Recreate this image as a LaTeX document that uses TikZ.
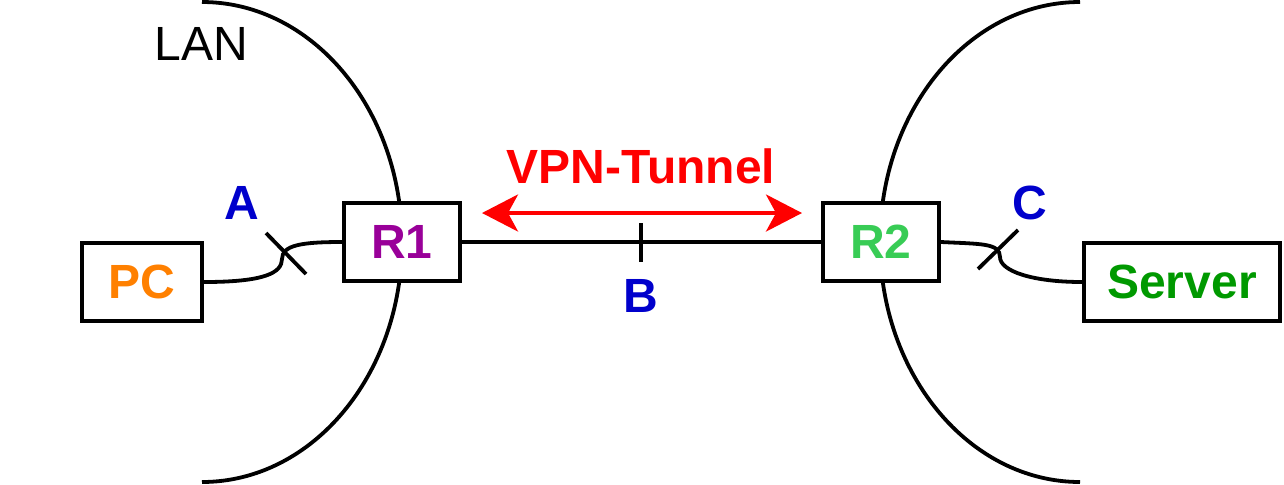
\documentclass[tikz,border=0pt]{standalone}
\usepackage{fontspec}
\setmainfont{Liberation Sans}
\usetikzlibrary{arrows.meta}
\definecolor{pcorange}{HTML}{FF8000}
\definecolor{rpurple}{HTML}{990099}
\definecolor{rgreen}{HTML}{38CC55}
\definecolor{srvgreen}{HTML}{009900}
\definecolor{ptblue}{HTML}{0000CC}
\tikzset{
  dev/.style={draw, fill=white, line width=2pt, minimum width=#1, minimum height=39pt, inner sep=0pt, font=\bfseries\fontsize{24}{28}\selectfont},
  dev/.default=58pt,
  wire/.style={line width=1.9pt},
  probe/.style={line width=1.9pt},
  ptlbl/.style={text=ptblue, font=\bfseries\fontsize{24}{28}\selectfont},
  vpn/.style={{Stealth[length=18pt,width=18.5pt,inset=5pt]}-{Stealth[length=18pt,width=18.5pt,inset=5pt]}, line width=1.9pt, draw=red},
}
\begin{document}
\begin{tikzpicture}[x=0.5pt,y=-0.5pt]
  \useasboundingbox (0,0) rectangle (1284,484);
  % network borders
  \draw[wire] (202,2) .. controls (312.5,2) and (402,109.4) .. (402,242) .. controls (402,374.6) and (312.5,482) .. (202,482);
  \draw[wire] (1080,2) .. controls (969.5,2) and (880,109.4) .. (880,242) .. controls (880,374.6) and (969.5,482) .. (1080,482);
  \node[font=\fontsize{24}{28}\selectfont] (lan) at (201,44) {LAN};
  % devices
  \node[dev=60pt, text=pcorange] (pc) at (142,282) {PC};
  \node[dev, text=rpurple] (r1) at (402,242) {R1};
  \node[dev, text=rgreen] (r2) at (881,242) {R2};
  \node[dev=98pt, text=srvgreen] (srv) at (1182,282) {Server};
  % links
  \coordinate (hopA) at (282,259);
  \coordinate (hopC) at (1000,257);
  \draw[wire] (pc.east) .. controls +(60,0) and +(0,14) .. (hopA) .. controls +(0,-14) and +(-40,0) .. (r1.west);
  \draw[wire] (r1) -- (r2);
  \draw[wire] (r2.east) .. controls +(40,2) and +(0,-14) .. (hopC) .. controls +(0,14) and +(-50,0) .. (srv.west);
  % measuring points
  \draw[probe] (266,233) -- ++(40,41);
  \draw[probe] (641,223) -- ++(0,39);
  \draw[probe] (978,269) -- ++(40,-39);
  \node[ptlbl] (ptA) at (242,203) {A};
  \node[ptlbl] (ptB) at (641,296) {B};
  \node[ptlbl] (ptC) at (1030,203) {C};
  % tunnel
  \coordinate (vl) at (482,213);
  \coordinate (vr) at (802,213);
  \draw[vpn] (vl) -- (vr);
  \node[text=red, font=\bfseries\fontsize{24}{28}\selectfont] (vpnlbl) at (641,166) {VPN-Tunnel};
\end{tikzpicture}
\end{document}
